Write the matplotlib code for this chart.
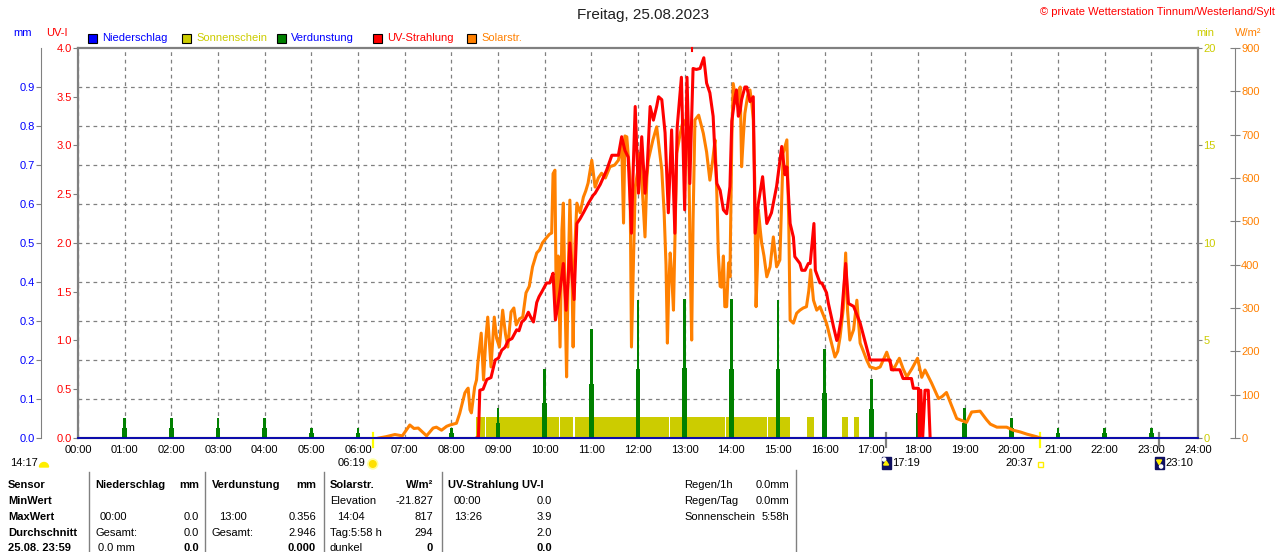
import numpy as np
import matplotlib.pyplot as plt
from matplotlib import transforms
from matplotlib.patches import Rectangle, Wedge, Circle, Polygon

plt.rcParams['font.family'] = ['Liberation Sans', 'DejaVu Sans']

# --- data (time in hours) ---
solar_h = [6.45, 6.60, 6.79, 6.95, 7.11, 7.20, 7.29, 7.38, 7.47, 7.61, 7.68, 7.79, 7.90, 7.97,
           8.11, 8.18, 8.29, 8.33, 8.36, 8.40, 8.43, 8.50, 8.54, 8.57, 8.64, 8.69, 8.74, 8.78,
           8.85, 8.92, 8.97, 9.03, 9.10, 9.16, 9.21, 9.28, 9.34, 9.39, 9.46, 9.53, 9.60, 9.67,
           9.74, 9.83, 9.89, 9.95, 10.03, 10.10, 10.15, 10.18, 10.22, 10.25, 10.29, 10.33, 10.37,
           10.40, 10.44, 10.47, 10.50, 10.54, 10.58, 10.61, 10.65, 10.69, 10.76, 10.83, 10.88,
           10.93, 11.01, 11.08, 11.15, 11.22, 11.30, 11.40, 11.50, 11.58, 11.65, 11.69, 11.72,
           11.76, 11.80, 11.83, 11.86, 11.90, 11.94, 12.00, 12.04, 12.10, 12.15, 12.19, 12.22,
           12.32, 12.40, 12.51, 12.56, 12.60, 12.63, 12.66, 12.69, 12.72, 12.76, 12.80, 12.83,
           12.90, 12.97, 13.03, 13.08, 13.12, 13.15, 13.18, 13.22, 13.30, 13.40, 13.47, 13.54,
           13.60, 13.65, 13.69, 13.72, 13.76, 13.79, 13.83, 13.86, 13.90, 13.94, 13.97, 14.01,
           14.04, 14.11, 14.15, 14.19, 14.22, 14.26, 14.29, 14.35, 14.40, 14.44, 14.47, 14.50,
           14.53, 14.56, 14.58, 14.62, 14.65, 14.70, 14.76, 14.83, 14.90, 14.97, 15.04, 15.08,
           15.11, 15.19, 15.23, 15.26, 15.33, 15.40, 15.47, 15.54, 15.61, 15.66, 15.70, 15.76,
           15.83, 15.90, 16.04, 16.12, 16.22, 16.28, 16.33, 16.40, 16.45, 16.49, 16.54, 16.62,
           16.69, 16.76, 16.83, 16.90, 16.97, 17.10, 17.19, 17.33, 17.40, 17.47, 17.60, 17.68,
           17.76, 17.87, 17.99, 18.08, 18.15, 18.29, 18.44, 18.52, 18.61, 18.70, 18.83, 18.95,
           19.04, 19.15, 19.33, 19.47, 19.55, 19.69, 19.90, 20.04, 20.19, 20.33, 20.54, 20.62]
solar_w = [0, 3, 8, 5, 30, 22, 23, 14, 5, 23, 25, 18, 27, 30,
           34, 57, 104, 111, 115, 65, 58, 118, 134, 175, 242, 134, 230, 279,
           164, 279, 230, 210, 295, 240, 210, 291, 300, 261, 275, 279, 335, 350,
           395, 427, 434, 450, 461, 470, 473, 610, 618, 288, 420, 210, 480,
           542, 300, 141, 350, 549, 400, 210, 450, 542, 520, 556, 570,
           588, 641, 579, 600, 611, 600, 626, 630, 641, 680, 496, 697,
           695, 640, 595, 210, 400, 579, 620, 657, 560, 464, 600, 641,
           688, 718, 618, 520, 400, 219, 350, 427, 380, 295, 500, 657,
           700, 734, 720, 711, 400, 226, 500, 734, 745, 703, 660, 595,
           640, 688, 560, 427, 350, 348, 420, 303, 303, 404, 372, 688,
           818, 772, 790, 810, 626, 700, 749, 790, 803, 770, 734, 600,
           303, 400, 526, 480, 450, 420, 372, 395, 464, 395, 411, 550,
           657, 688, 500, 272, 265, 288, 295, 300, 303, 340, 388, 318,
           295, 303, 265, 230, 187, 200, 233, 300, 427, 295, 226, 250,
           318, 219, 200, 180, 164, 160, 164, 198, 175, 157, 184, 160,
           141, 160, 184, 140, 157, 127, 91, 96, 105, 80, 45, 40,
           36, 60, 62, 42, 32, 25, 25, 18, 14, 9, 3, 0]

uv_h = [8.55, 8.58, 8.61, 8.68, 8.76, 8.85, 8.94, 9.01, 9.08, 9.15, 9.22, 9.30, 9.40, 9.45,
        9.51, 9.58, 9.65, 9.70, 9.76, 9.80, 9.83, 9.88, 9.94, 10.04, 10.11, 10.15, 10.18,
        10.23, 10.28, 10.33, 10.40, 10.46, 10.50, 10.54, 10.58, 10.63, 10.69, 10.76, 10.83,
        10.94, 11.04, 11.08, 11.19, 11.33, 11.44, 11.58, 11.65, 11.72, 11.79, 11.86, 11.90,
        11.94, 12.01, 12.08, 12.15, 12.20, 12.26, 12.33, 12.40, 12.44, 12.51, 12.58, 12.65,
        12.72, 12.79, 12.84, 12.93, 13.00, 13.05, 13.11, 13.18, 13.25, 13.33, 13.41, 13.47,
        13.54, 13.61, 13.65, 13.69, 13.76, 13.83, 13.90, 13.97, 14.01, 14.08, 14.11, 14.15,
        14.19, 14.22, 14.29, 14.33, 14.40, 14.47, 14.51, 14.58, 14.67, 14.76, 14.86, 14.97,
        15.08, 15.15, 15.19, 15.26, 15.33, 15.36, 15.47, 15.51, 15.58, 15.65, 15.69, 15.77,
        15.80, 15.90, 15.94, 16.04, 16.08, 16.19, 16.26, 16.29, 16.36, 16.45, 16.51, 16.62,
        16.76, 16.86, 16.97, 17.40, 17.43, 17.61, 17.68, 17.86, 17.90, 18.01, 18.03, 18.06,
        18.10, 18.15, 18.22, 18.26]
uv_i = [0.0, 0.0, 0.49, 0.50, 0.60, 0.62, 0.80, 0.82, 0.90, 0.93, 1.00, 1.02, 1.11, 1.10,
        1.19, 1.22, 1.29, 1.24, 1.19, 1.30, 1.39, 1.45, 1.50, 1.59, 1.59, 1.65, 1.69,
        1.21, 1.35, 1.52, 1.79, 1.31, 1.60, 2.00, 1.70, 1.42, 2.20, 2.25, 2.31,
        2.41, 2.49, 2.51, 2.60, 2.75, 2.90, 2.90, 3.09, 2.95, 2.88, 2.10, 2.80,
        3.40, 2.51, 3.09, 2.51, 2.80, 3.40, 3.26, 3.40, 3.50, 3.47, 3.13, 2.31,
        3.16, 2.10, 3.19, 3.70, 2.34, 3.70, 2.61, 3.79, 3.78, 3.79, 3.90, 3.64,
        3.54, 3.30, 2.90, 2.61, 2.54, 2.34, 2.30, 2.58, 3.25, 3.50, 3.57, 3.30,
        3.36, 3.47, 3.60, 3.60, 3.45, 3.50, 2.10, 2.41, 2.68, 2.20, 2.31, 2.58,
        2.99, 2.70, 2.78, 2.20, 2.06, 1.86, 1.79, 1.72, 1.72, 1.79, 1.79, 2.20,
        1.72, 1.59, 1.59, 1.49, 1.38, 1.14, 1.00, 1.04, 1.24, 1.79, 1.38, 1.35,
        1.18, 1.00, 0.80, 0.80, 0.70, 0.70, 0.61, 0.61, 0.51, 0.51, 0.0, 0.49,
        0.0, 0.49, 0.49, 0.0]

evap_hours = list(range(1, 24))
evap_mm = [0.052, 0.052, 0.052, 0.052, 0.026, 0.026, 0.0, 0.026, 0.078, 0.177, 0.280, 0.354,
           0.356, 0.356, 0.354, 0.228, 0.151, 0.129, 0.078, 0.052, 0.026, 0.026, 0.026]
evap_mm_low = [0.026, 0.026, 0.026, 0.026, 0.013, 0.013, 0.0, 0.013, 0.038, 0.089, 0.138, 0.176,
               0.179, 0.176, 0.176, 0.115, 0.074, 0.065, 0.039, 0.026, 0.013, 0.013, 0.013]

sun_start = [8.53, 8.75, 10.33, 10.64, 12.69, 13.88, 14.79, 15.62, 16.37, 16.63]
sun_end = [8.72, 10.30, 10.61, 12.66, 13.86, 14.77, 15.26, 15.77, 16.50, 16.74]
sun_min = 1.1

rain_h = [0, 24]
rain_mm = [0.0, 0.0]

hours = np.arange(0, 25)
hour_labels = ['%02d:00' % h for h in hours]

# sunrise, moonrise, sunset, moonset
event_h = [6 + 19 / 60, 17 + 19 / 60, 20 + 37 / 60, 23 + 10 / 60]
event_lbl = ['06:19', '17:19', '20:37', '23:10']

W, H = 1280, 552
fig = plt.figure(figsize=(12.8, 5.52), dpi=100, facecolor='white')
px = transforms.Affine2D().scale(1 / W, -1 / H).translate(0, 1) + fig.transFigure
x0, x1, y0, y1 = 78, 1198, 438, 48

GRAY = '#808080'
BLUE = '#0000FF'
YEL = '#CCCC00'
ORA = '#FF8000'
RED = '#FF0000'
GRN = '#008000'

ax = fig.add_axes([x0 / W, 1 - y0 / H, (x1 - x0) / W, (y0 - y1) / H])
ax_min = ax.twinx()
ax_sol = ax.twinx()
ax_uv = ax.twinx()
ax_min.set_zorder(0)
ax.set_zorder(1)
ax_sol.set_zorder(2)
ax_uv.set_zorder(3)
ax.patch.set_visible(False)
ax_min.patch.set_visible(True)
ax_min.patch.set_facecolor('white')

for a in (ax, ax_min, ax_sol, ax_uv):
    a.set_xlim(0, 24)
    for s in a.spines.values():
        s.set_visible(False)

# frame
for s in ('top', 'bottom', 'left', 'right'):
    ax_min.spines[s].set_visible(True)
    ax_min.spines[s].set_color(GRAY)
    ax_min.spines[s].set_linewidth(1.6)

# mm axis (outer left)
ax.set_ylim(0, 1.0)
ax.set_yticks(np.arange(0, 1.0, 0.1))
ax.set_yticklabels(['%.1f' % v for v in np.arange(0, 1.0, 0.1)])
ax.spines['left'].set_visible(True)
ax.spines['left'].set_position(('outward', 26.6))
ax.spines['left'].set_color(GRAY)
ax.tick_params(axis='y', length=3.6, color=GRAY, labelcolor=BLUE, labelsize=8, pad=1)
ax.set_xticks(hours)
ax.set_xticklabels(hour_labels)
ax.tick_params(axis='x', length=0, pad=5, labelsize=8, labelcolor='black')
ax.set_axisbelow(True)
ax.grid(True, color=GRAY, linestyle=(0, (3, 3)), linewidth=0.9)

# UV axis (inner left)
ax_uv.set_ylim(0, 4)
ax_uv.yaxis.tick_left()
ax_uv.set_yticks(np.arange(0, 4.01, 0.5))
ax_uv.set_yticklabels(['%.1f' % v for v in np.arange(0, 4.01, 0.5)])
ax_uv.tick_params(axis='y', length=3.6, color=GRAY, labelcolor=RED, labelsize=8, pad=1)

# min axis (inner right)
ax_min.set_ylim(0, 20)
ax_min.set_yticks([0, 5, 10, 15, 20])
ax_min.tick_params(axis='y', length=3, color=GRAY, labelcolor=YEL, labelsize=8, pad=1)
ax_min.tick_params(axis='x', length=0, labelbottom=False)

# W/m2 axis (outer right)
ax_sol.set_ylim(0, 900)
ax_sol.set_yticks(np.arange(0, 901, 100))
ax_sol.spines['right'].set_visible(True)
ax_sol.spines['right'].set_position(('outward', 26.6))
ax_sol.spines['right'].set_color(GRAY)
ax_sol.tick_params(axis='y', direction='inout', length=7, color=GRAY, labelcolor=ORA,
                   labelsize=8, pad=1)

# series
ax_min.bar(sun_start, sun_min, width=np.subtract(sun_end, sun_start), align='edge',
           color=YEL, linewidth=0)
ax.bar(evap_hours, evap_mm_low, width=0.1, color=GRN, linewidth=0, zorder=3)
ax.bar(evap_hours, evap_mm, width=0.06, color=GRN, linewidth=0, zorder=3)
ax_sol.plot(solar_h, solar_w, color=ORA, linewidth=2.2)
ax_uv.plot(uv_h, uv_i, color=RED, linewidth=2.2)
# Niederschlag is 0 mm all day; drawn last so it sits on the base line
ax_uv.plot(rain_h, rain_mm, color='#0000B0', linewidth=1.3, clip_on=False)

# event marks below the axis
xt = ax.get_xaxis_transform()
ev_col = ['#FFFF00', GRAY, '#FFFF00', GRAY]
for h, c in zip(event_h, ev_col):
    ax.plot([h, h], [0.013, -0.023], color=c, linewidth=1.6, transform=xt, clip_on=False)
ax.plot([13.16, 13.16], [1.0, 0.992], color=RED, linewidth=1.5, transform=xt, clip_on=False)


def T(x, y, s, **kw):
    kw.setdefault('fontsize', 8)
    kw.setdefault('va', 'center')
    fig.text(x, y, s, transform=px, **kw)


def hx(h):
    return x0 + h / 24 * (x1 - x0)


# title and header
T(643, 15, 'Freitag, 25.08.2023', fontsize=11, ha='center', color='#202020')
T(1275, 12, '© private Wetterstation Tinnum/Westerland/Sylt', ha='right', color=RED)
T(23, 33, 'mm', ha='center', color=BLUE)
T(57, 33, 'UV-I', ha='center', color=RED)
T(1205, 33, 'min', ha='center', color=YEL)
T(1248, 33, 'W/m²', ha='center', color=ORA)

leg = [(88, 'Niederschlag', BLUE, BLUE), (182, 'Sonnenschein', YEL, YEL),
       (277, 'Verdunstung', GRN, BLUE), (373, 'UV-Strahlung', RED, RED),
       (467, 'Solarstr.', ORA, ORA)]
for lx, name, fc, tc in leg:
    fig.add_artist(Rectangle((lx, 33.5), 9, 9, transform=px, facecolor=fc,
                             edgecolor='black', linewidth=0.8))
    T(lx + 14, 38, name, color=tc)

# day length, sunrise / moonrise / sunset / moonset labels
T(10, 463, '14:17', ha='left')
fig.add_artist(Wedge((44, 467), 4.5, 180, 360, transform=px, color='#FFEE00'))
xs = hx(event_h[0])
T(xs - 7, 463, event_lbl[0], ha='right')
fig.add_artist(Circle((xs, 464), 5, transform=px, color='#FFFFA0'))
fig.add_artist(Circle((xs, 464), 3.3, transform=px, color='#FFE000'))
xm = hx(event_h[1])
T(xm + 6, 463, event_lbl[1], ha='left')
fig.add_artist(Rectangle((xm - 4.5, 457), 9, 12, transform=px, color='#101060'))
fig.add_artist(Circle((xm - 2, 459.5), 1.6, transform=px, color='white'))
fig.add_artist(Polygon([(xm, 461), (xm - 2.5, 465), (xm + 2.5, 465)], transform=px, color='#FFEE00'))
xss = hx(event_h[2])
T(xss - 7, 463, event_lbl[2], ha='right')
fig.add_artist(Rectangle((xss - 2.5, 462), 5, 5, transform=px, facecolor='none',
                         edgecolor='#FFEE00', linewidth=1))
xms = hx(event_h[3])
T(xms + 6, 463, event_lbl[3], ha='left')
fig.add_artist(Rectangle((xms - 4.5, 457), 9, 12, transform=px, color='#101060'))
fig.add_artist(Circle((xms + 2, 466.5), 1.6, transform=px, color='white'))
fig.add_artist(Polygon([(xms - 2.5, 460), (xms + 2.5, 460), (xms, 464.5)], transform=px, color='#FFEE00'))

# statistics table
rows = [485, 501, 517, 533, 548]
for y, s in zip(rows, ['Sensor', 'MinWert', 'MaxWert', 'Durchschnitt', '25.08. 23:59']):
    T(8, y, s, ha='left', fontweight='bold')
for xl in (88.6, 205, 324, 441.6):
    fig.add_artist(plt.Line2D([xl, xl], [472, 552], transform=px, color=GRAY, linewidth=1))
fig.add_artist(plt.Line2D([795.5, 795.5], [470, 552], transform=px, color=GRAY, linewidth=1))

T(95, rows[0], 'Niederschlag', ha='left', fontweight='bold')
T(199, rows[0], 'mm', ha='right', fontweight='bold')
T(100, rows[2], '00:00', ha='left')
T(199, rows[2], '0.0', ha='right')
T(95, rows[3], 'Gesamt:', ha='left')
T(199, rows[3], '0.0', ha='right')
T(98, rows[4], '0.0 mm', ha='left')
T(199, rows[4], '0.0', ha='right', fontweight='bold')

T(212, rows[0], 'Verdunstung', ha='left', fontweight='bold')
T(316, rows[0], 'mm', ha='right', fontweight='bold')
T(219, rows[2], '13:00', ha='left')
T(316, rows[2], '0.356', ha='right')
T(212, rows[3], 'Gesamt:', ha='left')
T(316, rows[3], '2.946', ha='right')
T(316, rows[4], '0.000', ha='right', fontweight='bold')

T(330, rows[0], 'Solarstr.', ha='left', fontweight='bold')
T(433, rows[0], 'W/m²', ha='right', fontweight='bold')
T(330, rows[1], 'Elevation', ha='left')
T(433, rows[1], '-21.827', ha='right')
T(337, rows[2], '14:04', ha='left')
T(433, rows[2], '817', ha='right')
T(330, rows[3], 'Tag:5:58 h', ha='left')
T(433, rows[3], '294', ha='right')
T(330, rows[4], 'dunkel', ha='left')
T(433, rows[4], '0', ha='right', fontweight='bold')

T(448, rows[0], 'UV-Strahlung UV-I', ha='left', fontweight='bold')
T(454, rows[1], '00:00', ha='left')
T(552, rows[1], '0.0', ha='right')
T(454, rows[2], '13:26', ha='left')
T(552, rows[2], '3.9', ha='right')
T(552, rows[3], '2.0', ha='right')
T(552, rows[4], '0.0', ha='right', fontweight='bold')

T(684, rows[0], 'Regen/1h', ha='left')
T(789, rows[0], '0.0mm', ha='right')
T(684, rows[1], 'Regen/Tag', ha='left')
T(789, rows[1], '0.0mm', ha='right')
T(684, rows[2], 'Sonnenschein', ha='left')
T(789, rows[2], '5:58h', ha='right')

fig.savefig('out.png', dpi=100, facecolor='white')
